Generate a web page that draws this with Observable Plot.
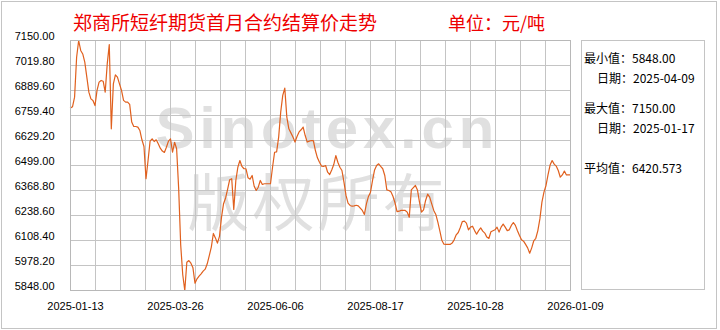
<!DOCTYPE html>
<html><head><meta charset="utf-8">
<script src="https://cdn.jsdelivr.net/npm/d3@7"></script>
<script src="https://cdn.jsdelivr.net/npm/@observablehq/plot@0.6"></script>
<style>
body{margin:0;background:#fff;}
#wrap{position:relative;width:720px;height:330px;overflow:hidden;background:#fff;}
#border{position:absolute;left:1px;top:1px;width:714px;height:326px;border:1px solid #c4c4c4;}
.t{position:absolute;font-family:"Noto Sans CJK SC",sans-serif;white-space:nowrap;}
#title{left:73px;top:8px;font-size:19px;color:#ee0000;}
#unit{left:448px;top:9px;font-size:18px;color:#ee0000;}
#panel{position:absolute;left:581px;top:40px;width:124px;height:250px;border:1px solid #c4c4c4;box-sizing:border-box;}
.p{position:absolute;font-family:"Noto Sans CJK SC",sans-serif;font-size:12px;color:#000;white-space:nowrap;}
#chart{position:absolute;left:0;top:0;}
</style></head>
<body><div id="wrap"><div id="chart"></div><div id="border"></div><div id="panel"></div>
<div class="t" id="title"></div><div class="t" id="unit"></div>
</div>
<script>
const titleText = "郑商所短纤期货首月合约结算价走势";
const unitText = "单位：元/吨";
const xTickLabels = ["2025-01-13","2025-03-26","2025-06-06","2025-08-17","2025-10-28","2026-01-09"];
const xTickIndex = [0,49,98,147,196,245];
const yTicks = [5848.00,5978.20,6108.40,6238.60,6368.80,6499.00,6629.20,6759.40,6889.60,7019.80,7150.00];
const statLabels = ["最小值：","日期：","最大值：","日期：","平均值："];
const statValues = ["5848.00","2025-04-09","7150.00","2025-01-17","6420.573"];
const prices = [
6799,6805,6855,7063,7150,7098,7080,7037,6959,6881,
6846,6838,6811,6890,6933,6942,6938,6881,7028,7129,
6690,6924,6971,6959,6924,6890,6838,6829,6829,6817,
6725,6702,6702,6699,6681,6633,6598,6430,6525,6626,
6638,6624,6633,6612,6589,6574,6567,6594,6626,6638,
6568,6620,6586,6380,6085,5930,5848,5995,6004,5990,
5966,5886,5909,5923,5935,5949,5959,5987,6030,6074,
6145,6122,6095,6130,6230,6300,6330,6376,6425,6430,
6270,6420,6490,6525,6494,6482,6482,6435,6428,6447,
6391,6369,6386,6421,6400,6404,6404,6404,6404,6490,
6568,6570,6647,6777,6864,6902,6751,6690,6669,6647,
6621,6650,6674,6685,6699,6655,6621,6626,6629,6629,
6577,6539,6516,6496,6494,6499,6464,6452,6476,6504,
6551,6516,6490,6473,6412,6343,6303,6291,6287,6289,
6292,6289,6277,6265,6244,6299,6338,6360,6421,6476,
6499,6508,6494,6482,6447,6372,6369,6362,6339,6305,
6259,6261,6265,6266,6265,6256,6230,6372,6384,6395,
6372,6308,6256,6268,6317,6350,6334,6299,6265,6244,
6204,6157,6108,6089,6088,6088,6088,6095,6112,6138,
6150,6176,6207,6209,6199,6164,6178,6183,6160,6141,
6160,6174,6157,6147,6126,6119,6154,6159,6164,6178,
6152,6178,6194,6178,6160,6164,6187,6202,6187,6159,
6134,6112,6105,6088,6070,6042,6070,6107,6120,6160,
6221,6308,6360,6395,6452,6501,6525,6506,6496,6473,
6438,6450,6470,6450,6450,6450
];
const watermark = ["Sinotex.cn","版权所有"];

document.getElementById("title").textContent = titleText;
document.getElementById("unit").textContent = unitText;
const panel = document.getElementById("panel");
const rows = [[2,8],[15,28],[2,58],[15,78],[2,118]];
statLabels.forEach((s,k)=>{
  const el = document.createElement("div");
  el.className = "p";
  el.style.left = rows[k][0] + "px";
  el.style.top = rows[k][1] + "px";
  el.textContent = s + statValues[k];
  panel.appendChild(el);
});

const n = prices.length;
const data = prices.map((v,i)=>({i, v}));
const chart = Plot.plot({
  width: 720, height: 330,
  marginLeft: 70, marginRight: 150, marginTop: 40, marginBottom: 40,
  style: {background: "transparent", fontFamily: "'Liberation Sans', Arial, sans-serif", fontSize: "11px", color: "#000"},
  x: {domain: [0, n - 1]},
  y: {domain: [yTicks[0], yTicks[yTicks.length - 1]]},
  marks: [
    Plot.text([watermark[0]], {text: d => d, frameAnchor: "middle", dx: 7, dy: -36, fontSize: 58, fontWeight: "bold", fill: "#e0e0e0", fontFamily: "'Liberation Sans', Arial, sans-serif"}),
    Plot.text([watermark[1]], {text: d => d, frameAnchor: "middle", dx: -3, dy: 41, fontSize: 62, fill: "#e0e0e0", fontFamily: "'Noto Sans CJK SC', sans-serif"}),
    Plot.gridX(d3.range(21).map(k => k * (n - 1) / 20), {stroke: "#c4c4c4", strokeOpacity: 1}),
    Plot.gridY(yTicks, {stroke: "#c4c4c4", strokeOpacity: 1}),
    Plot.line(data, {x: "i", y: "v", stroke: "#e0601e", strokeWidth: 1.2}),
    Plot.frame({stroke: "#b8b8b8"}),
    Plot.axisY(yTicks, {label: null, tickSize: 0, tickPadding: 16, dy: -4, tickFormat: d => d.toFixed(2), fill: "#000"}),
    Plot.axisX(xTickIndex, {label: null, tickSize: 0, tickPadding: 12, dx: 5, tickFormat: d => xTickLabels[xTickIndex.indexOf(d)], fill: "#000"})
  ]
});
d3.select(chart).selectAll("text").filter(function(){return this.textContent === watermark[0];}).attr("letter-spacing", "5px");
d3.select(chart).selectAll("text").filter(function(){return this.textContent === watermark[1];}).attr("letter-spacing", "3px");
document.getElementById("chart").appendChild(chart);
</script></body></html>
